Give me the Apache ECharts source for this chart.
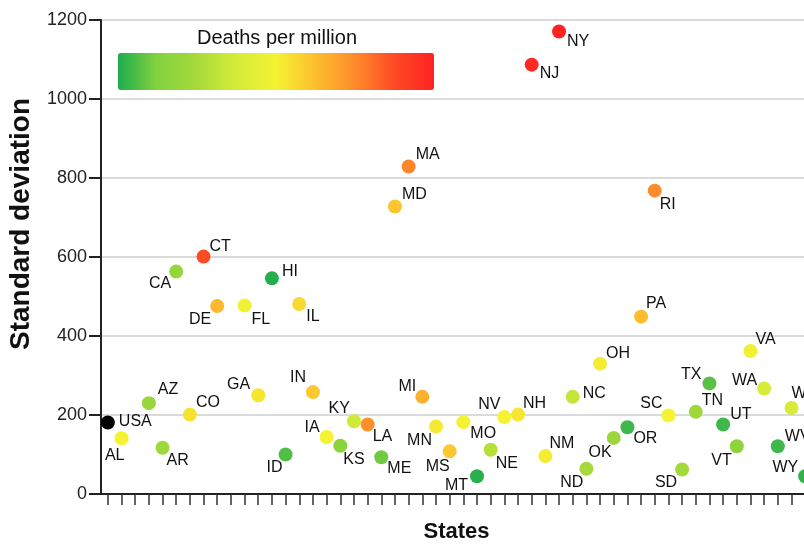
<!DOCTYPE html>
<html>
<head>
<meta charset="utf-8">
<script src="https://cdn.jsdelivr.net/npm/echarts@6/dist/echarts.min.js"></script>
<style>html,body{margin:0;padding:0;background:#fff}#c{width:804px;height:544px}</style>
</head>
<body>
<div id="c"></div>
<script>
// Categories (x axis): USA followed by states in order of full name
const categories = ['USA','AL','AK','AZ','AR','CA','CO','CT','DE','DC','FL','GA','HI','ID','IL','IN','IA','KS','KY','LA','ME','MD','MA','MI','MN','MS','MO','MT','NE','NV','NH','NJ','NM','NY','NC','ND','OH','OK','OR','PA','RI','SC','SD','TN','TX','UT','VT','VA','WA','WV','WI','WY'];
// Standard deviation (y values); null = no point drawn
const stdDev = [181,141,null,230,117,563,201,601,476,null,477,250,546,100,481,258,144,122,184,176,93,728,829,246,171,108,182,45,112,195,201,1087,96,1171,246,64,330,142,169,449,768,199,62,208,280,176,121,362,267,121,218,45];
// Deaths per million (estimated from colour), drives the colour scale
const deathsPerMillion = [null,900,null,360,400,340,970,1570,1150,null,860,950,10,110,1010,1080,900,270,650,1330,180,1100,1370,1190,940,1080,900,20,520,900,950,1760,920,1800,590,450,920,380,70,1130,1350,900,430,400,130,70,290,880,680,70,680,40];
const colorScaleMin = 0, colorScaleMax = 1800;
const legendTitle = 'Deaths per million';
const yTicks = [0,200,400,600,800,1000,1200];

// Label placement layout: [dx, dy, align]
const labelLayout = {
  USA:[11,-1,'left'], AL:[3,17,'right'], AZ:[9,-14,'left'], AR:[4,13,'left'], CA:[-5,12,'right'],
  CO:[6,-12,'left'], CT:[6,-10,'left'], DE:[-6,14,'right'], FL:[7,14,'left'], GA:[-8,-11,'right'],
  HI:[10,-7,'left'], ID:[-3,13,'right'], IL:[7,13,'left'], IN:[-7,-14,'right'], IA:[-7,-10,'right'],
  KS:[3,14,'left'], KY:[-4,-13,'right'], LA:[5,12,'left'], ME:[6,11,'left'], MD:[7,-12,'left'],
  MA:[7,-12,'left'], MI:[-6,-10,'right'], MN:[-4,14,'right'], MS:[0,15,'right'], MO:[7,11,'left'],
  MT:[-9,9,'right'], NE:[5,14,'left'], NV:[-4,-12,'right'], NH:[5,-11,'left'], NJ:[8,9,'left'],
  NM:[4,-12,'left'], NY:[8,10,'left'], NC:[10,-3,'left'], ND:[-3,14,'right'], OH:[6,-10,'left'],
  OK:[-2,15,'right'], OR:[6,11,'left'], PA:[5,-13,'left'], RI:[5,14,'left'], SC:[-6,-12,'right'],
  SD:[-5,13,'right'], TN:[6,-11,'left'], TX:[-8,-9,'right'], UT:[7,-10,'left'], VT:[-5,14,'right'],
  VA:[5,-11,'left'], WA:[-7,-8,'right'], WV:[7,-10,'left'], WI:[0,-14,'left'], WY:[-7,-9,'right']
};

const FONT = 'Liberation Sans, Arial, Helvetica, sans-serif';

function mkLabel(name){
  const l = labelLayout[name] || [8,-10,'left'];
  return {show:true, position:'inside', offset:[l[0], l[1]], align:l[2], verticalAlign:'middle',
    formatter:name, fontSize:16, fontFamily:FONT, color:'#111', opacity:1};
}

const stateData = [];
const usaData = [];
categories.forEach((c,i)=>{
  if (stdDev[i] == null) return;
  if (c === 'USA') { usaData.push({value:[c, stdDev[i]], label:mkLabel(c)}); return; }
  stateData.push({value:[c, stdDev[i], deathsPerMillion[i]], label:mkLabel(c)});
});

const chart = echarts.init(document.getElementById('c'), null, {renderer:'canvas'});
chart.setOption({
  animation:false,
  backgroundColor:'#fff',
  textStyle:{fontFamily:FONT},
  title:{text:legendTitle, left:277, top:28, textAlign:'center', padding:0,
    textStyle:{fontSize:20, fontWeight:'normal', color:'#111', fontFamily:FONT}},
  grid:{left:101, top:20, width:711, height:474, containLabel:false, outerBoundsMode:'none'},
  xAxis:{type:'category', data:categories, boundaryGap:true,
    name:'States', nameLocation:'middle', nameGap:27,
    nameTextStyle:{fontSize:22, fontWeight:'bold', color:'#111', fontFamily:FONT},
    axisLine:{lineStyle:{color:'#222', width:2}},
    axisTick:{show:true, alignWithLabel:true, interval:0, length:11, lineStyle:{color:'#333', width:1.5}},
    axisLabel:{show:false}, splitLine:{show:false}},
  yAxis:{type:'value', min:yTicks[0], max:yTicks[yTicks.length-1], interval:200,
    name:'Standard deviation', nameLocation:'middle', nameGap:66, nameRotate:90,
    nameTextStyle:{fontSize:28, fontWeight:'bold', color:'#111', fontFamily:FONT, padding:[0,0,0,66]},
    axisLine:{show:true, lineStyle:{color:'#222', width:2}},
    axisTick:{show:true, length:12, lineStyle:{color:'#222', width:2}},
    axisLabel:{fontSize:18, color:'#222', margin:14, fontFamily:FONT, formatter:v=>String(v)},
    splitLine:{show:true, lineStyle:{color:'#dadada', width:2}}},
  visualMap:{type:'continuous', min:colorScaleMin, max:colorScaleMax, dimension:2, seriesIndex:0,
    orient:'horizontal', left:118, top:53, itemWidth:37, itemHeight:316, padding:0,
    calculable:false, hoverLink:false, text:null, showLabel:false,
    inRange:{color:['#1fad4f','#84d13e','#a6da3a','#d5ec38','#f4f233','#fdbe2e','#fd8c2b','#fe4a25','#fe2222']}},
  series:[
    {type:'scatter', symbol:'circle', symbolSize:14, data:stateData, z:3, itemStyle:{opacity:1}},
    {type:'scatter', symbol:'circle', symbolSize:14, data:usaData, itemStyle:{color:'#000', opacity:1}, z:3}
  ]
});
</script>
</body>
</html>
